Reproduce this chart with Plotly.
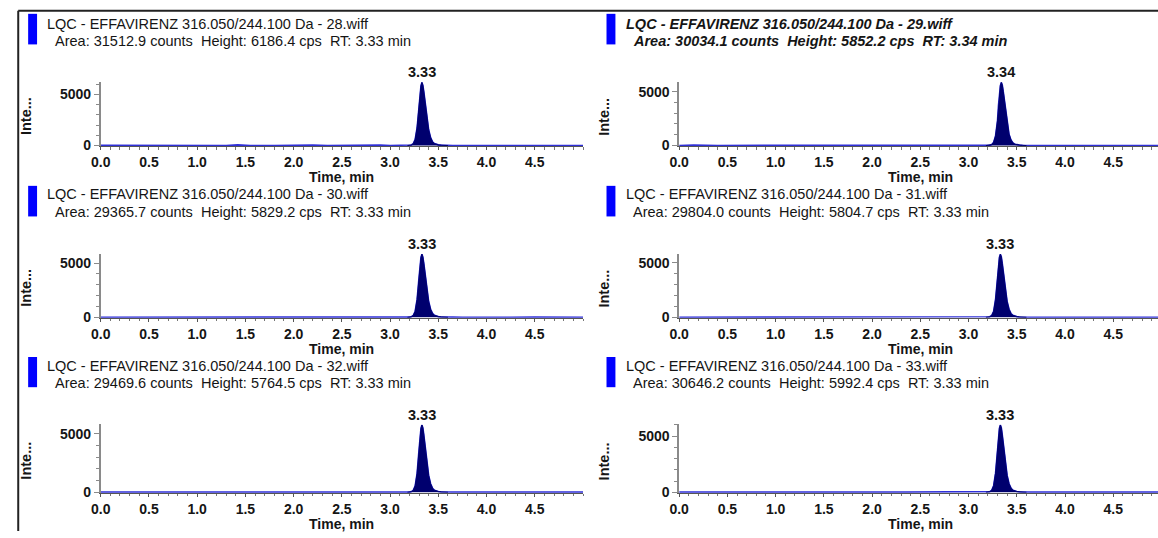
import plotly.graph_objects as go

W, H = 1158, 538
FONT = "Arial, Liberation Sans, sans-serif"
TXT = "#151515"

# ---- sample info -------------------------------------------------------
file_ids = ["28", "29", "30", "31", "32", "33"]
areas = [31512.9, 30034.1, 29365.7, 29804.0, 29469.6, 30646.2]
heights = [6186.4, 5852.2, 5829.2, 5804.7, 5764.5, 5992.4]
rts = [3.33, 3.34, 3.33, 3.33, 3.33, 3.33]
selected = [False, True, False, False, False, False]

# ---- chromatogram traces (time in min, intensity in cps) ---------------
pre_time = [0.00, 0.15, 0.40, 0.70, 1.00, 1.30, 1.42, 1.55, 1.80, 2.00,
            2.10, 2.20, 2.35, 2.58, 2.70, 2.90, 3.00, 3.12]
peak_time = [3.18, 3.20, 3.22, 3.24, 3.26, 3.28, 3.30, 3.31, 3.32, 3.33,
             3.34, 3.35, 3.36, 3.37, 3.38, 3.40, 3.42, 3.44, 3.46, 3.48,
             3.50, 3.53, 3.56, 3.60]
post_time = [3.65, 3.75, 3.90, 4.05, 4.25, 4.50, 4.75, 5.00]

pre_28 = [15, 10, 12, 8, 14, 10, 70, 12, 10, 60, 15, 55, 12, 50, 10, 45, 12, 15]
pre_29 = [10, 50, 12, 10, 8, 12, 10, 14, 10, 55, 40, 50, 10, 12, 10, 14, 10, 12]
pre_30 = [12, 10, 14, 10, 12, 10, 12, 10, 14, 10, 12, 10, 14, 10, 12, 10, 14, 12]
pre_31 = [10, 12, 10, 14, 10, 12, 10, 12, 10, 14, 10, 12, 10, 12, 10, 14, 10, 12]
pre_32 = [12, 10, 12, 10, 14, 10, 12, 10, 12, 10, 14, 10, 12, 45, 10, 12, 10, 14]
pre_33 = [10, 14, 10, 12, 10, 12, 10, 14, 10, 12, 10, 12, 10, 14, 10, 12, 10, 12]

peak_28 = [0, 20, 60, 180, 600, 1750, 3900, 5050, 5850, 6186.4, 5900, 5250,
           4450, 3600, 2800, 1550, 780, 380, 190, 110, 70, 40, 20, 0]
peak_29 = [0, 10, 30, 90, 300, 900, 2300, 3700, 4800, 5550, 5852.2, 5600,
           5000, 4250, 3450, 2050, 1050, 520, 250, 130, 80, 45, 22, 0]
peak_30 = [0, 18, 55, 170, 560, 1650, 3700, 4780, 5520, 5829.2, 5560, 4950,
           4200, 3400, 2650, 1460, 740, 360, 180, 100, 65, 35, 18, 0]
peak_31 = [0, 15, 50, 165, 550, 1640, 3680, 4750, 5500, 5804.7, 5540, 4930,
           4180, 3380, 2630, 1450, 735, 355, 178, 98, 62, 34, 17, 0]
peak_32 = [0, 16, 52, 160, 545, 1620, 3650, 4720, 5460, 5764.5, 5500, 4890,
           4150, 3350, 2610, 1440, 725, 350, 175, 96, 60, 33, 16, 0]
peak_33 = [0, 19, 58, 175, 580, 1700, 3800, 4900, 5680, 5992.4, 5720, 5090,
           4320, 3490, 2720, 1500, 760, 370, 185, 105, 68, 38, 19, 0]

post_28 = [12, 10, 14, 12, 10, 14, 10, 12]
post_29 = [12, 10, 12, 10, 14, 10, 12, 10]
post_30 = [14, 10, 30, 12, 10, 14, 10, 12]
post_31 = [10, 12, 10, 14, 10, 12, 10, 12]
post_32 = [12, 10, 12, 10, 12, 10, 14, 10]
post_33 = [10, 12, 14, 10, 12, 10, 12, 10]

pre_vals = [pre_28, pre_29, pre_30, pre_31, pre_32, pre_33]
peak_vals = [peak_28, peak_29, peak_30, peak_31, peak_32, peak_33]
post_vals = [post_28, post_29, post_30, post_31, post_32, post_33]

x_ticks = [0.0, 0.5, 1.0, 1.5, 2.0, 2.5, 3.0, 3.5, 4.0, 4.5]
x_tick_labels = ["0.0", "0.5", "1.0", "1.5", "2.0", "2.5", "3.0", "3.5", "4.0", "4.5"]
y_ticks = [0, 5000]
y_tick_labels = ["0", "5000"]

# ---- panel geometry (pixels) -------------------------------------------
PX_PER_MIN = 97.3
col_x0 = [91.5, 675.0]            # x pixel of t = 0
col_x1 = [578.0, 1158.0]          # right end of plot area
row_top = [83.0, 257.0, 430.0]
row_bot = [148.0, 322.0, 499.3]
title_y1 = [24.0, 196.7, 370.7]
title_y2 = [41.7, 214.3, 388.3]
rect_y = [(14.0, 45.0), (188.3, 219.3), (361.7, 392.3)]
xtitle_y = [179.5, 353.5, 530.5]
col_rect_x = [(18.3, 27.3), (601.7, 610.7)]
col_text_x1 = [36.0, 620.0]
col_text_x2 = [44.0, 627.5]
col_ytitle_x = [16.7, 599.5]


def px(x):
    return x / W


def py(y):
    return 1 - y / H


fig = go.Figure()
annotations = []
shapes = []
layout = {}

for i in range(6):
    r, c = divmod(i, 2)
    n = "" if i == 0 else str(i + 1)
    xa, ya = "x" + n, "y" + n
    h = heights[i]

    times = pre_time + peak_time + post_time
    vals = pre_vals[i] + peak_vals[i] + post_vals[i]
    fig.add_trace(go.Scatter(x=times, y=vals, mode="lines", xaxis=xa, yaxis=ya,
                             line=dict(color="#2f2fd8", width=1.6),
                             hoverinfo="skip", showlegend=False))
    fig.add_trace(go.Scatter(x=peak_time, y=peak_vals[i], mode="lines",
                             xaxis=xa, yaxis=ya, fill="tozeroy",
                             fillcolor="#00006e",
                             line=dict(color="#00006e", width=1),
                             hoverinfo="skip", showlegend=False))

    x_range = (col_x1[c] - col_x0[c]) / PX_PER_MIN
    tickfont = dict(family=FONT, size=14, color=TXT, weight="bold")
    layout["xaxis" + n] = dict(
        domain=[px(col_x0[c]), px(col_x1[c])], range=[0, x_range], anchor=ya,
        showline=True, linecolor="#555555", linewidth=1,
        ticks="outside", ticklen=3, tickcolor="#555555",
        tickvals=x_ticks, ticktext=x_tick_labels, tickfont=tickfont,
        minor=dict(dtick=0.1, tick0=0, ticks="outside", ticklen=2.5,
                   tickcolor="#777777"),
        showgrid=False, zeroline=False, fixedrange=True)
    layout["yaxis" + n] = dict(
        domain=[py(row_bot[r]), py(row_top[r])],
        range=[-0.008 * h, 1.008 * h], anchor=xa,
        showline=True, linecolor="#8a8a8a", linewidth=1.5,
        ticks="outside", ticklen=5, tickcolor="#8a8a8a",
        tickvals=y_ticks, ticktext=y_tick_labels, tickfont=tickfont,
        minor=dict(dtick=1000, tick0=0, ticks="outside", ticklen=3,
                   tickcolor="#8a8a8a"),
        showgrid=False, zeroline=False, fixedrange=True)

    # peak apex label
    annotations.append(dict(x=rts[i], y=h, xref=xa, yref=ya,
                            text=f"{rts[i]:.2f}", showarrow=False,
                            yanchor="bottom", xanchor="center", yshift=0,
                            font=dict(family=FONT, size=14.5, color=TXT,
                                      weight="bold")))

    # header: colour swatch + two text lines
    x0r, x1r = col_rect_x[c]
    y0r, y1r = rect_y[r]
    shapes.append(dict(type="rect", xref="paper", yref="paper",
                       x0=px(x0r), x1=px(x1r), y0=py(y1r), y1=py(y0r),
                       fillcolor="#0000ff", line=dict(width=0)))
    line1 = f"LQC - EFFAVIRENZ 316.050/244.100 Da - {file_ids[i]}.wiff"
    line2 = (f"Area: {areas[i]:.1f} counts&nbsp;&nbsp;Height: {h:.1f} cps"
             f"&nbsp;&nbsp;RT: {rts[i]:.2f} min")
    if selected[i]:
        line1 = f"<b><i>{line1}</i></b>"
        line2 = f"<b><i>{line2}</i></b>"
    for txt, tx, ty in ((line1, col_text_x1[c], title_y1[r]),
                        (line2, col_text_x2[c], title_y2[r])):
        annotations.append(dict(x=px(tx), y=py(ty), xref="paper", yref="paper",
                                text=txt, showarrow=False, xanchor="left",
                                yanchor="middle", borderpad=0,
                                font=dict(family=FONT, size=14.5, color=TXT)))

    # axis titles
    x_center = col_x0[c] + 5.0 * PX_PER_MIN / 2
    annotations.append(dict(x=px(x_center), y=py(xtitle_y[r]), xref="paper",
                            yref="paper", text="Time, min", showarrow=False,
                            xanchor="center", yanchor="middle", borderpad=0,
                            font=dict(family=FONT, size=14, color=TXT,
                                      weight="bold")))
    annotations.append(dict(x=px(col_ytitle_x[c]),
                            y=py((row_top[r] + row_bot[r]) / 2 + 2.5),
                            xref="paper", yref="paper", text="Inte...",
                            showarrow=False, textangle=-90,
                            xanchor="center", yanchor="middle",
                            font=dict(family=FONT, size=14.5, color=TXT,
                                      weight="bold")))

# outer frame (top and left edges)
shapes.append(dict(type="line", xref="paper", yref="paper",
                   x0=px(8.3), x1=1, y0=py(11), y1=py(11),
                   line=dict(color="#222222", width=2)))
shapes.append(dict(type="line", xref="paper", yref="paper",
                   x0=px(8.3), x1=px(8.3), y0=0, y1=py(11),
                   line=dict(color="#222222", width=2)))

fig.update_layout(width=W, height=H, autosize=False,
                  margin=dict(l=0, r=0, t=0, b=0, pad=0),
                  paper_bgcolor="white", plot_bgcolor="white",
                  annotations=annotations, shapes=shapes, **layout)

fig.write_html("out.html", config={"displayModeBar": False},
               post_script="document.body.style.margin = '0';")
